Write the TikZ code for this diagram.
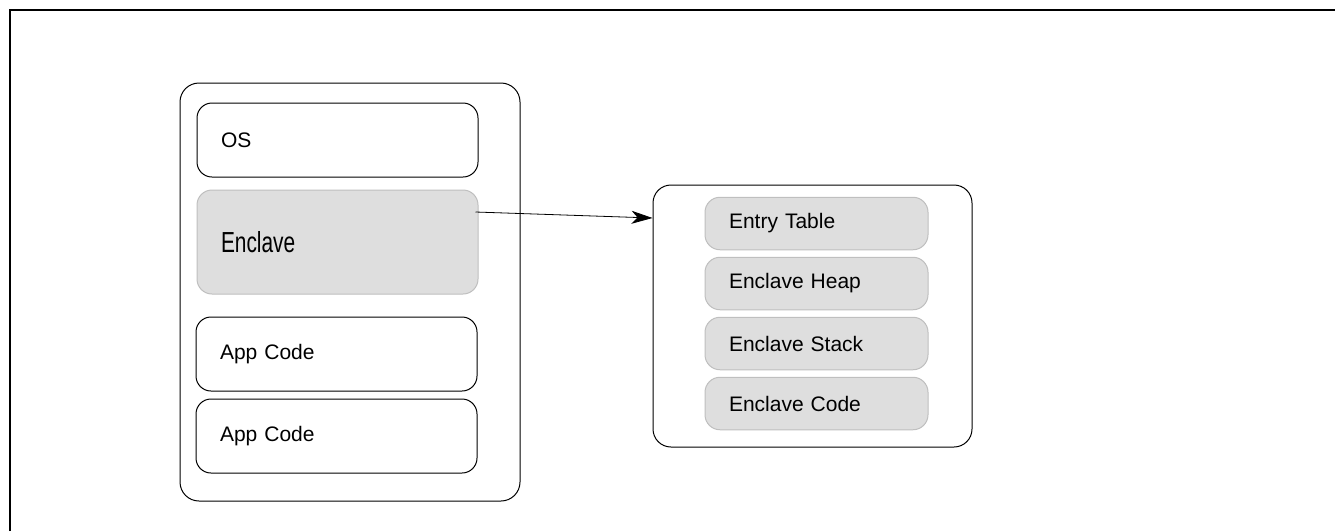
\documentclass[tikz,border=0pt]{standalone}
\usepackage{fontspec}
\setmainfont{Liberation Sans}
\usetikzlibrary{arrows.meta,positioning}

\begin{document}
\begin{tikzpicture}[
		x=1pt, y=-1pt,
		node distance=7pt,
		arrow/.style={-{Stealth[length=21pt, width=13pt, inset=6pt]}, line width=0.8pt},
		frame/.style={line width=2pt},
		outer/.style={draw, line width=1pt, rounded corners=19pt},
		block/.style={draw, line width=1pt, rounded corners=15pt, minimum width=281pt, minimum height=74pt,
			text width=233pt, align=left, font=\fontsize{21}{25}\selectfont},
		secret/.style={block, draw=black!25, fill=black!13},
		part/.style={secret, minimum width=223pt, minimum height=52.5pt, text width=175pt},
	]
		\useasboundingbox (0,0) rectangle (1335,531);
		\draw[frame] (10,531) -- (10,10) -- (1335,10);

		\node (cpu) at (350,292) [outer, minimum width=340pt, minimum height=418pt] {};
		\node (os) at (337.5,140) [block] {OS};
		\node (encl) at (337.5,242) [secret, minimum height=104pt] {\scalebox{0.72}[1]{\fontsize{29}{33}\selectfont Enclave}};
		\node (app1) at (336.5,354) [block] {App Code};
		\node (app2) [block, below=of app1] {App Code};

		\node (mem) at (812.5,316) [outer, rounded corners=18pt, minimum width=319pt, minimum height=262pt] {};
		\node (et) at (816.5,223.5) [part] {Entry Table};
		\node (eh) [part, below=6.5pt of et] {Enclave Heap};
		\node (es) [part, below=6.5pt of eh] {Enclave Stack};
		\node (ec) [part, below=6.5pt of es] {Enclave Code};

		\draw[arrow] ([xshift=-3pt, yshift=30pt]encl.east) -- ([yshift=98pt]mem.west);
	\end{tikzpicture}
\end{document}
